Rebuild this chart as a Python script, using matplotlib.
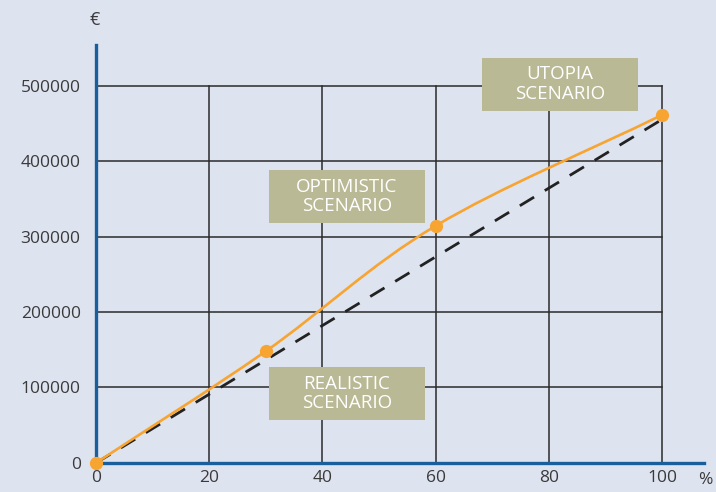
import numpy as np
import matplotlib.pyplot as plt
from matplotlib.path import Path
from matplotlib.patches import PathPatch

plt.rcParams['font.family'] = ['Open Sans', 'DejaVu Sans']

# scenario points: share (%) vs value (EUR)
share = [0, 30, 60, 100]
value = [0, 148000, 314000, 461000]
baseline_share = [0, 100]
baseline_value = [0, 455000]

labels = ['REALISTIC\nSCENARIO', 'OPTIMISTIC\nSCENARIO', 'UTOPIA\nSCENARIO']
label_x = [44.3, 44.3, 82.0]
label_y = [92000, 353000, 502000]

xticks = [0, 20, 40, 60, 80, 100]
yticks = [0, 100000, 200000, 300000, 400000, 500000]

bg = '#dee3f0'
blue = '#1a5e9c'
orange = '#f7a431'
khaki = '#bab995'

fig = plt.figure(figsize=(7.16, 4.92), dpi=100, facecolor=bg)
ax = fig.add_axes([0.134, 0.059, 0.849, 0.85], facecolor=bg)
ax.set_xlim(0, 107.4)
ax.set_ylim(0, 554000)

# grid box only inside 0..100 x 0..500000
for yv in yticks[1:]:
    ax.plot([0, 100], [yv, yv], color='#2b2b2b', lw=1.1, zorder=1)
for xv in xticks[1:]:
    ax.plot([xv, xv], [0, 500000], color='#2b2b2b', lw=1.1, zorder=1)

ax.plot(baseline_share, baseline_value, color='#222222', lw=2.0,
        dashes=(6, 4.5), zorder=3)

# smooth curve through the points (Catmull-Rom as cubic Bezier)
pts = np.column_stack([share, value]).astype(float)
ext = np.vstack([pts[0] - (pts[1] - pts[0]), pts, pts[-1] + (pts[-1] - pts[-2])])
verts = [tuple(pts[0])]
codes = [Path.MOVETO]
for i in range(1, len(ext) - 2):
    p0, p1, p2, p3 = ext[i - 1], ext[i], ext[i + 1], ext[i + 2]
    c1 = p1 + (p2 - p0) / 6
    c2 = p2 - (p3 - p1) / 6
    verts += [tuple(c1), tuple(c2), tuple(p2)]
    codes += [Path.CURVE4] * 3
ax.add_patch(PathPatch(Path(verts, codes), fill=False, edgecolor=orange,
                       lw=1.9, zorder=4))
ax.plot(share, value, 'o', color=orange, ms=8.5, zorder=5, clip_on=False)

# labels on fixed-size boxes (156 x 53 px)
for txt, lx, ly in zip(labels, label_x, label_y):
    ax.text(lx, ly, txt, ha='center', va='center', color='white',
            fontsize=13.5, linespacing=1.1, zorder=6)
    pcx, pcy = ax.transData.transform((lx, ly))
    inv = ax.transData.inverted()
    x0, y0 = inv.transform((pcx - 78, pcy - 26.5))
    x1, y1 = inv.transform((pcx + 78, pcy + 26.5))
    ax.add_patch(plt.Rectangle((x0, y0), x1 - x0, y1 - y0, facecolor=khaki,
                               edgecolor='none', zorder=5.5))

for s in ['top', 'right']:
    ax.spines[s].set_visible(False)
for s in ['left', 'bottom']:
    ax.spines[s].set_color(blue)
    ax.spines[s].set_linewidth(2.4)

ax.set_xticks(xticks)
ax.set_yticks(yticks)
ax.set_yticklabels([str(v) for v in yticks])
ax.tick_params(length=0, labelsize=12.5, labelcolor='#3a3a3a')
ax.tick_params(axis='y', pad=11)
ax.tick_params(axis='x', pad=5)

fig.text(95 / 716, 1 - 20 / 492, '€', ha='center', va='center',
         fontsize=13, color='#3a3a3a')
fig.text(705 / 716, 1 - 480 / 492, '%', ha='center', va='center',
         fontsize=12.5, color='#3a3a3a')

fig.savefig('out.png', dpi=100, facecolor=bg)
